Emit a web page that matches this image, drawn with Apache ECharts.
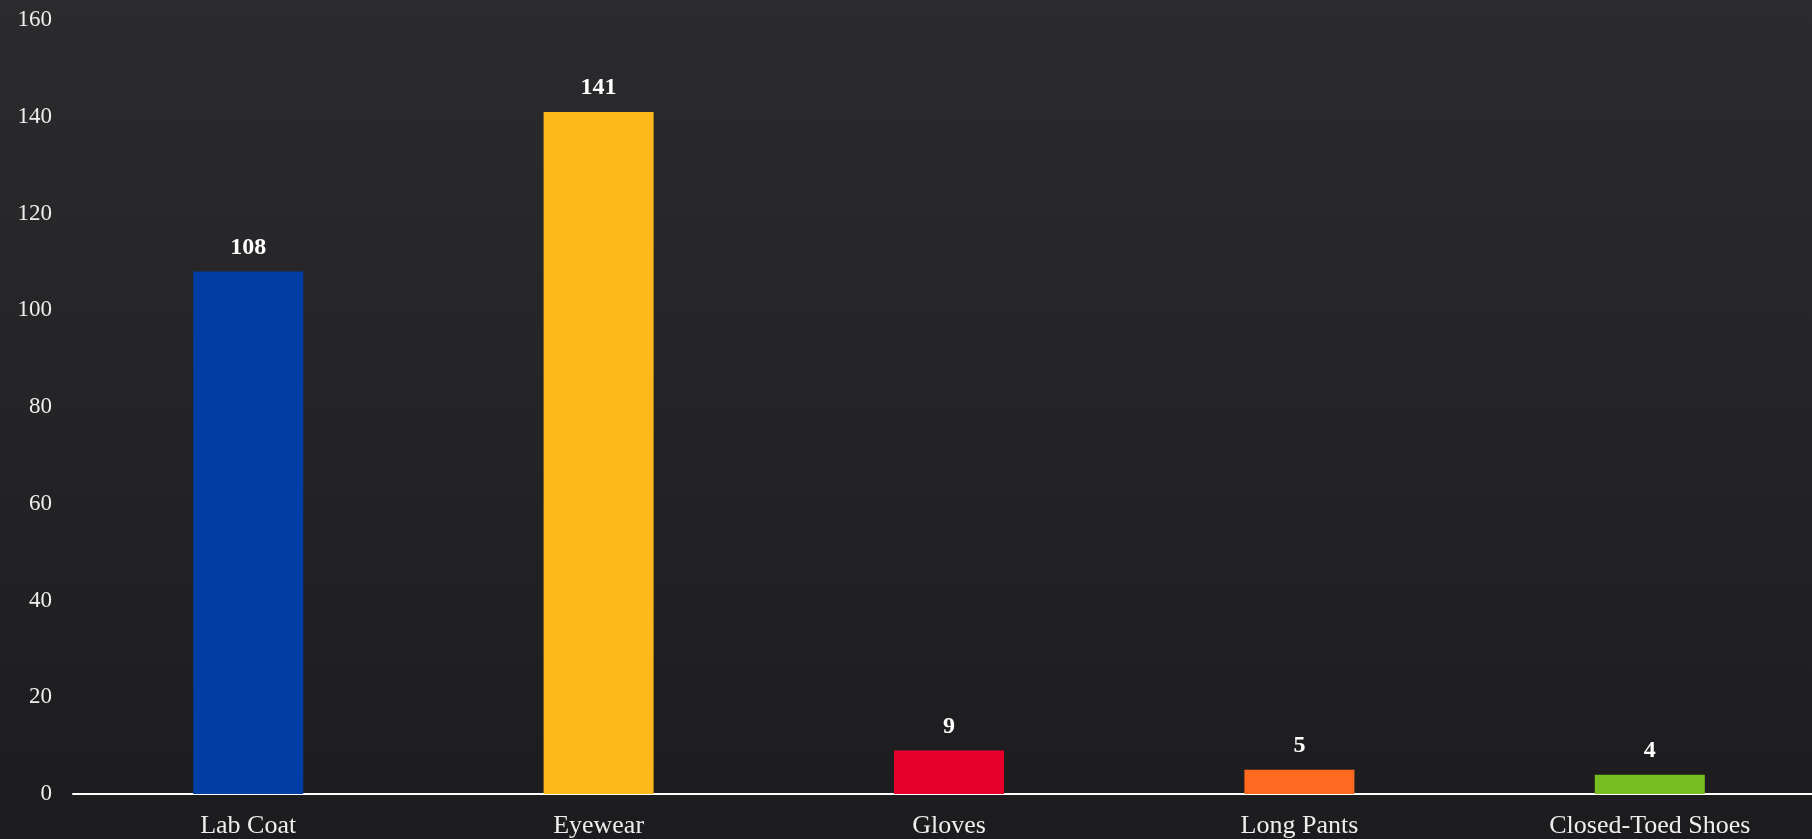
<!DOCTYPE html>
<html>
<head>
<meta charset="utf-8">
<script src="https://cdn.jsdelivr.net/npm/echarts@6/dist/echarts.min.js"></script>
<style>
html,body{margin:0;padding:0;width:100%;height:100%;background:#222224;overflow:hidden;}
#chart{width:1825px;height:839px;}
</style>
</head>
<body>
<div id="chart"></div>
<script>
var categories = ['Lab Coat', 'Eyewear', 'Gloves', 'Long Pants', 'Closed-Toed Shoes'];
var values = [108, 141, 9, 5, 4];
var barColors = ['#003DA5', '#FFB81C', '#E4002B', '#FF6A21', '#78BE21'];
var yTicks = [0, 20, 40, 60, 80, 100, 120, 140, 160];

var chart = echarts.init(document.getElementById('chart'));
var fontFamily = '"Liberation Serif", "DejaVu Serif", serif';
chart.setOption({
  backgroundColor: {
    type: 'linear', x: 0, y: 0, x2: 0, y2: 1,
    colorStops: [
      {offset: 0, color: '#2b2b2d'},
      {offset: 0.5, color: '#242426'},
      {offset: 1, color: '#1c1c1e'}
    ]
  },
  animation: false,
  grid: {left: 73, right: 0, top: 20, bottom: 45, containLabel: false},
  xAxis: {
    type: 'category',
    data: categories,
    axisLine: {show: true, lineStyle: {color: '#ffffff', width: 2}},
    axisTick: {show: false},
    axisLabel: {color: '#eeeeee', fontSize: 26, fontFamily: fontFamily, margin: 19, interval: 0}
  },
  yAxis: {
    type: 'value',
    min: yTicks[0],
    max: yTicks[yTicks.length - 1],
    interval: yTicks[1] - yTicks[0],
    axisLine: {show: false},
    axisTick: {show: false},
    splitLine: {show: false},
    axisLabel: {color: '#eeeeee', fontSize: 23, fontFamily: fontFamily, margin: 21}
  },
  series: [{
    type: 'bar',
    barWidth: 110,
    data: values.map(function (v, i) {
      return {value: v, itemStyle: {color: barColors[i]}};
    }),
    label: {
      show: true,
      position: 'top',
      distance: 12,
      color: '#ffffff',
      fontSize: 24,
      fontWeight: 'bold',
      fontFamily: fontFamily
    }
  }]
});
</script>
</body>
</html>
